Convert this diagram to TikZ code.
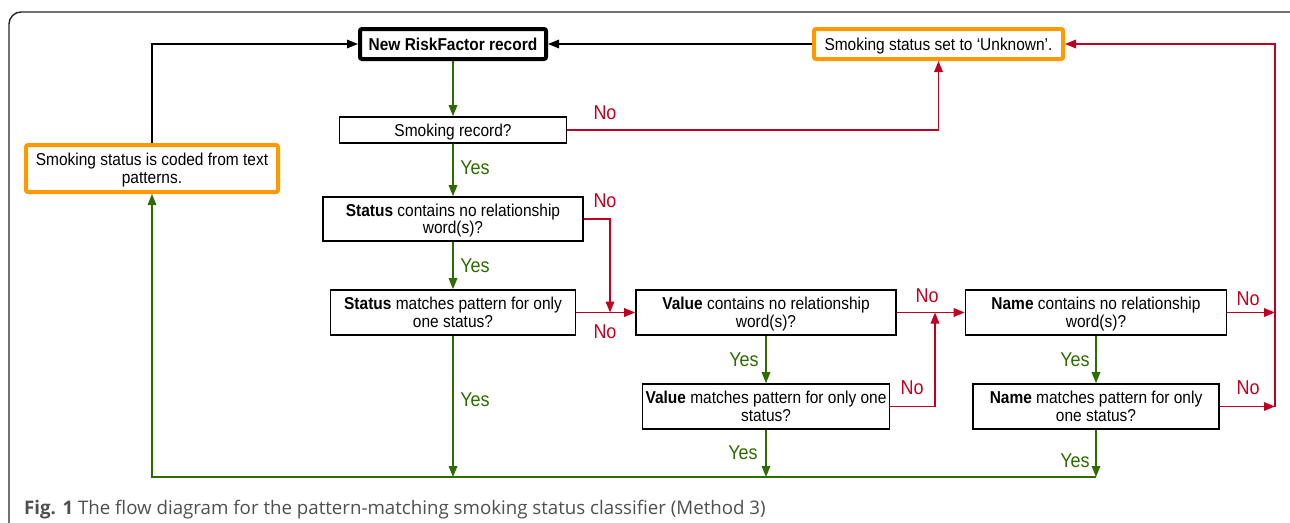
\documentclass[tikz,border=0pt]{standalone}
\usepackage{fontspec}
\setmainfont{Liberation Sans}
\newfontfamily\boxfont[FakeStretch=0.9]{Liberation Sans}
\newfontfamily\capfont{Open Sans}
\usetikzlibrary{arrows.meta}
\definecolor{myred}{HTML}{C00020}
\definecolor{mygreen}{HTML}{2E6B00}
\definecolor{myorange}{HTML}{FF9900}
\definecolor{capgray}{HTML}{505050}
\tikzset{
  box/.style={draw=black, line width=1.6pt, fill=white, align=center, inner sep=0pt,
    text depth=0pt, font=\boxfont\fontsize{17.2}{17.5}\selectfont},
  titlebox/.style={box, line width=4pt, rounded corners=2pt},
  orangebox/.style={box, draw=myorange, line width=4pt, rounded corners=2pt},
  conn/.style={line width=1.6pt, -{Triangle[length=11pt,width=8.5pt]}},
  rarr/.style={conn, draw=myred},
  garr/.style={conn, draw=mygreen},
  barr/.style={conn, draw=black},
  lab/.style={inner sep=0pt, font=\boxfont\fontsize{20}{20}\selectfont},
  ylab/.style={lab, text=mygreen},
  nlab/.style={lab, text=myred}
}
\begin{document}
\begin{tikzpicture}[x=1pt,y=-1pt]
\useasboundingbox (0,0) rectangle (1290,522);
\clip (0,0) rectangle (1290,522);
\fill[white] (0,0) rectangle (1290,522);
\draw[line width=1.4pt, draw=black!85, rounded corners=12pt] (9,12) rectangle (1320,560);

% nodes
\node[titlebox, minimum width=186pt, minimum height=30pt] (rf) at (453,44) {\textbf{New RiskFactor record}};
\node[orangebox, minimum width=249pt, minimum height=30pt] (unk) at (938.5,44) {Smoking status set to ‘Unknown’.};
\node[box, minimum width=227pt, minimum height=26pt] (smk) at (453,130) {Smoking record?};
\node[orangebox, minimum width=252pt, minimum height=47pt] (coded) at (152,168.5) {Smoking status is coded from text\\patterns.};
\node[box, minimum width=260pt, minimum height=44pt] (sc) at (453,219) {\textbf{Status} contains no relationship\\word(s)?};
\node[box, minimum width=245pt, minimum height=45pt] (sm) at (453,312.5) {\textbf{Status} matches pattern for only\\one status?};
\node[box, minimum width=260pt, minimum height=45pt] (vc) at (766,312.5) {\textbf{Value} contains no relationship\\word(s)?};
\node[box, minimum width=247pt, minimum height=45pt] (vm) at (766,406.5) {\textbf{Value} matches pattern for only one\\status?};
\node[box, minimum width=261pt, minimum height=45pt] (nc) at (1096,312.5) {\textbf{Name} contains no relationship\\word(s)?};
\node[box, minimum width=246pt, minimum height=45pt] (nm) at (1096,406.5) {\textbf{Name} matches pattern for only\\one status?};

% helper coordinates
\coordinate (bot) at (0,477);
\coordinate (j1) at (610,312.5);
\coordinate (j2) at (935,312.5);
\coordinate (j3) at (1275,312.5);
\coordinate (j4) at (1275,406.5);

% black
\draw[barr] (unk.west) -- (rf.east);
\draw[barr] (coded.north) |- (rf.west);

% green
\draw[garr] (rf.south) -- (smk.north);
\draw[garr] (smk.south) -- (sc.north);
\draw[garr] (sc.south) -- (sm.north);
\draw[garr] (vc.south) -- (vm.north);
\draw[garr] (nc.south) -- (nm.north);
\draw[garr] (sm.south) -- (sm.south |- bot);
\draw[garr] (vm.south) -- (vm.south |- bot);
\draw[garr] (nm.south) -- (nm.south |- bot);
\draw[garr] (nm.south |- bot) -| (coded.south);

% red
\draw[rarr] (smk.east) -| (unk.south);
\draw[rarr] (sc.east) -| (j1);
\draw[rarr] (sm.east) -- (vc.west);
\draw[rarr] (vm.east) -| (j2);
\draw[rarr] (vc.east) -- (nc.west);
\draw[rarr] (nc.east) -- (j3);
\draw[rarr] (nm.east) -- (j4);
\draw[rarr] (j4) |- (unk.east);

% labels
\node[nlab] (l1) at (605,113) {No};
\node[ylab] (l2) at (475,168) {Yes};
\node[nlab] (l3) at (605,201) {No};
\node[ylab] (l4) at (475,266) {Yes};
\node[nlab] (l5) at (605,332) {No};
\node[ylab] (l6) at (475,400) {Yes};
\node[ylab] (l7) at (744,360) {Yes};
\node[nlab] (l8) at (927,296) {No};
\node[nlab] (l9) at (912,388) {No};
\node[ylab] (l10) at (743,453) {Yes};
\node[ylab] (l11) at (1075,360) {Yes};
\node[ylab] (l12) at (1075,461) {Yes};
\node[nlab] (l13) at (1248,299) {No};
\node[nlab] (l14) at (1248,388) {No};

% caption
\node[anchor=base west, inner sep=0pt, text=capgray, font=\capfont\fontsize{18.7}{20}\selectfont] (cap) at (24,514)
  {\textbf{Fig. 1} The flow diagram for the pattern-matching smoking status classifier (Method 3)};
\end{tikzpicture}
\end{document}
